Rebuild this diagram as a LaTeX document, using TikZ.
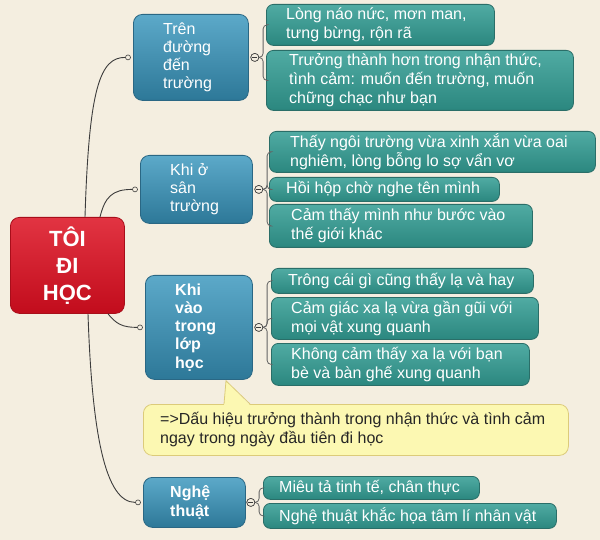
\documentclass[tikz,border=0pt]{standalone}
\usepackage{fontspec}
\setmainfont{Liberation Sans}
\definecolor{bgc}{HTML}{F4EEE0}
\definecolor{roottop}{HTML}{E23442}
\definecolor{rootbot}{HTML}{C20C1C}
\definecolor{rootborder}{HTML}{A80E1A}
\definecolor{brtop}{HTML}{5CA9C9}
\definecolor{brbot}{HTML}{2D7898}
\definecolor{brborder}{HTML}{2A6784}
\definecolor{lftop}{HTML}{50ABA3}
\definecolor{lfbot}{HTML}{2B877F}
\definecolor{lfborder}{HTML}{2A6E68}
\definecolor{ntfill}{HTML}{FCF8B2}
\definecolor{ntborder}{HTML}{DCCB7A}
\definecolor{connc}{HTML}{3C3C3C}
\begin{document}
\begin{tikzpicture}[x=1pt,y=-1pt,
  boxbase/.style={anchor=north west, inner sep=0pt, line width=0.8pt},
  rootbox/.style={boxbase, rounded corners=9pt, draw=rootborder, top color=roottop, bottom color=rootbot},
  branchbox/.style={boxbase, rounded corners=9pt, draw=brborder, top color=brtop, bottom color=brbot},
  leafbox/.style={boxbase, rounded corners=7pt, draw=lfborder, top color=lftop, bottom color=lfbot},
  notebox/.style={boxbase, rounded corners=9pt, draw=ntborder, fill=ntfill},
  txt/.style={anchor=west, align=left, inner sep=0pt, text=white, font=\fontsize{16}{18.8}\selectfont},
  brtxt/.style={txt, font=\fontsize{16}{17.8}\selectfont},
  brtxtb/.style={txt, font=\fontsize{16}{18.2}\selectfont\bfseries},
  notetxt/.style={txt, text=black!85},
  roottxt/.style={align=center, inner sep=0pt, text=white, font=\fontsize{22}{27}\selectfont\bfseries},
  dot/.style={circle, draw=connc, fill=bgc, line width=0.6pt, inner sep=0pt, minimum size=5pt},
  minus/.style={circle, draw=connc, fill=bgc, line width=0.6pt, inner sep=0pt, minimum size=8pt},
  conn/.style={draw=connc, line width=0.9pt},
  brk/.style={draw=connc!80, line width=0.8pt, rounded corners=4pt}
]
\fill[bgc] (0,0) rectangle (600,540);
\useasboundingbox (0,0) rectangle (600,540);

% root
\node[rootbox, minimum width=114pt, minimum height=96pt] (root) at (10,217) {};
\node[roottxt] at (root.center) {TÔI\\ĐI\\HỌC};

% branches
\node[branchbox, minimum width=115pt, minimum height=86pt] (b1) at (133,14) {};
\node[brtxt] at ([xshift=30pt]b1.west) {Trên\\đường\\đến\\trường};
\node[branchbox, minimum width=112pt, minimum height=68pt] (b2) at (140,155) {};
\node[brtxt] at ([xshift=30pt]b2.west) {Khi ở\\sân\\trường};
\node[branchbox, minimum width=107pt, minimum height=104pt] (b3) at (145,275) {};
\node[brtxtb] at ([xshift=30pt]b3.west) {Khi\\vào\\trong\\lớp\\học};
\node[branchbox, minimum width=102pt, minimum height=50pt] (b4) at (143,477) {};
\node[brtxtb] at ([xshift=27pt]b4.west) {Nghệ\\thuật};

% leaves
\node[leafbox, minimum width=228pt, minimum height=41pt] (l1a) at (266,4) {};
\node[txt] at ([xshift=20pt]l1a.west) {Lòng náo nức, mơn man,\\tưng bừng, rộn rã};
\node[leafbox, minimum width=307pt, minimum height=60pt] (l1b) at (266,50) {};
\node[txt] at ([xshift=23pt]l1b.west) {Trưởng thành hơn trong nhận thức,\\tình cảm: muốn đến trường, muốn\\chững chạc như bạn};

\node[leafbox, minimum width=326pt, minimum height=41pt] (l2a) at (269,131) {};
\node[txt] at ([xshift=21pt]l2a.west) {Thấy ngôi trường vừa xinh xắn vừa oai\\nghiêm, lòng bỗng lo sợ vẩn vơ};
\node[leafbox, minimum width=230pt, minimum height=24pt] (l2b) at (269,177) {};
\node[txt] at ([xshift=17pt]l2b.west) {Hồi hộp chờ nghe tên mình};
\node[leafbox, minimum width=263pt, minimum height=43pt] (l2c) at (269,204) {};
\node[txt] at ([xshift=22pt]l2c.west) {Cảm thấy mình như bước vào\\thế giới khác};

\node[leafbox, minimum width=262pt, minimum height=25pt] (l3a) at (271,268) {};
\node[txt] at ([xshift=17pt]l3a.west) {Trông cái gì cũng thấy lạ và hay};
\node[leafbox, minimum width=267pt, minimum height=42pt] (l3b) at (271,297) {};
\node[txt] at ([xshift=20pt]l3b.west) {Cảm giác xa lạ vừa gần gũi với\\mọi vật xung quanh};
\node[leafbox, minimum width=258pt, minimum height=42pt] (l3c) at (271,343) {};
\node[txt] at ([xshift=20pt]l3c.west) {Không cảm thấy xa lạ với bạn\\bè và bàn ghế xung quanh};

\node[leafbox, minimum width=216pt, minimum height=23pt] (l4a) at (263,476) {};
\node[txt] at ([xshift=16pt]l4a.west) {Miêu tả tinh tế, chân thực};
\node[leafbox, minimum width=293pt, minimum height=25pt] (l4b) at (263,503) {};
\node[txt] at ([xshift=16pt]l4b.west) {Nghệ thuật khắc họa tâm lí nhân vật};

% callout
\node[notebox, minimum width=425pt, minimum height=51pt] (note) at (143,404) {};
\coordinate (pa) at ([xshift=81pt,yshift=-1pt]b3.south west);
\coordinate (pl) at ([xshift=81pt]note.north west);
\coordinate (pr) at ([xshift=107pt]note.north west);
\fill[ntfill] ([yshift=-1.2pt]pl) -- (pa) -- ([yshift=-1.2pt]pr) -- cycle;
\draw[draw=ntborder, line width=0.8pt] (pl) -- (pa) -- (pr);
\node[notetxt] at ([xshift=17pt]note.west) {=>Dấu hiệu trưởng thành trong nhận thức và tình cảm\\ngay trong ngày đầu tiên đi học};

% dots
\node[dot] (c1) at ([xshift=-5pt]b1.west) {};
\node[dot] (c2) at ([xshift=-5pt]b2.west) {};
\node[dot] (c3) at ([xshift=-5pt]b3.west) {};
\node[dot] (c4) at ([xshift=-5pt]b4.west) {};

% root connectors
\draw[conn] ([xshift=75pt]root.north west) .. controls +(4,-130) and +(-25,0) .. (c1.west);
\draw[conn] ([xshift=90pt]root.north west) .. controls +(5,-20) and +(-20,0) .. (c2.west);
\draw[conn] ([xshift=98pt]root.south west) .. controls +(8,10) and +(-15,0) .. (c3.west);
\draw[conn] ([xshift=78pt]root.south west) .. controls +(4,120) and +(-30,0) .. (c4.west);

% brackets
\node[minus] (m1) at ([xshift=6pt]b1.east) {};
\node[minus] (m2) at ([xshift=6pt]b2.east) {};
\node[minus] (m3) at ([xshift=6pt]b3.east) {};
\node[minus] (m4) at ([xshift=5pt]b4.east) {};
\foreach \m/\l in {m1/l1a, m1/l1b, m2/l2a, m2/l2b, m2/l2c, m3/l3a, m3/l3b, m3/l3c, m4/l4a, m4/l4b}
  \draw[brk] (\m.east) -- ++(4,0) |- (\l.west);
\foreach \m in {m1,m2,m3,m4}{
  \node[minus] at (\m) {};
  \draw[draw=connc, line width=0.6pt] (\m.center) +(-2.5,0) -- +(2.5,0);
}
\end{tikzpicture}
\end{document}
